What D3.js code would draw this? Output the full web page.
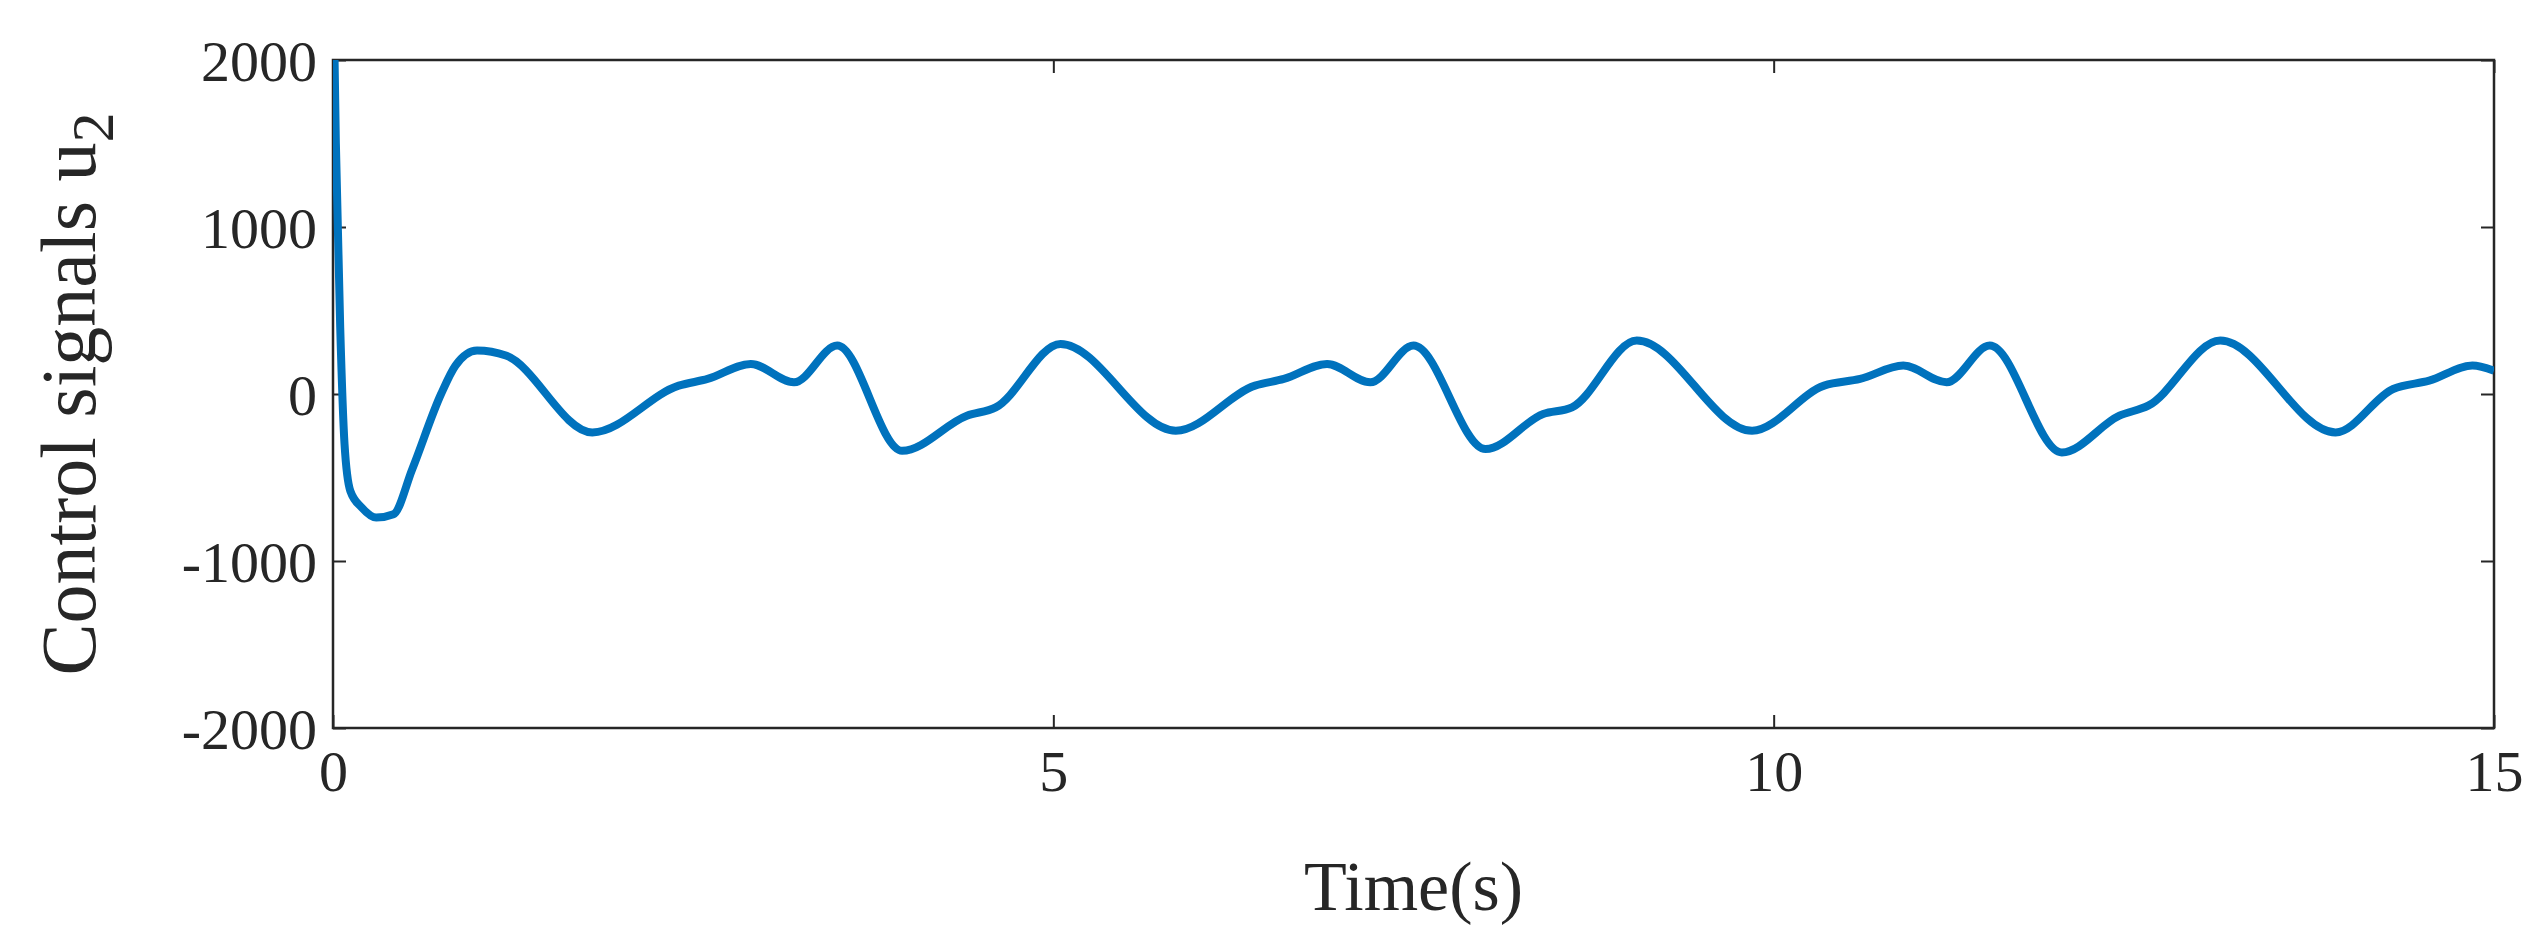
<!DOCTYPE html>
<html lang="en">
<head>
  <meta charset="UTF-8">
  <title>Control signals u2</title>
  <style>
    body { margin: 0; background: #fff; }
    text { font-family: "Liberation Serif", "DejaVu Serif", serif; fill: #262626; }
  </style>
</head>
<body>
  <script src="https://d3js.org/d3.v7.min.js"></script>
  <script>
    const times = [0, 0.02, 0.05, 0.08, 0.12, 0.2, 0.3, 0.42, 0.55, 0.75, 0.85, 1.0, 1.2, 1.8, 2.4, 2.6, 2.9, 3.2, 3.5, 3.95, 4.4, 4.6, 5.05, 5.85, 6.4, 6.6, 6.9, 7.2, 7.5, 8.0, 8.4, 8.6, 9.05, 9.85, 10.35, 10.6, 10.9, 11.2, 11.5, 12.0, 12.4, 12.6, 13.1, 13.9, 14.3, 14.55, 14.85, 15]
    const u2 = [2600, 1500, 400, -300, -580, -680, -740, -720, -450, 0, 170, 260, 230, -230, 50, 90, 180, 70, 290, -340, -130, -80, 300, -220, 50, 90, 180, 70, 290, -330, -120, -80, 320, -220, 50, 90, 170, 70, 290, -350, -130, -70, 320, -230, 30, 80, 170, 140]
    const xTicks = [0, 5, 10, 15]
    const yTicks = [-2000, -1000, 0, 1000, 2000]

    const W = 2548, H = 948
    const m = { left: 333, right: 54, top: 60, bottom: 220 }
    const iw = W - m.left - m.right, ih = H - m.top - m.bottom

    const x = d3.scaleLinear().domain([0, 15]).range([0, iw])
    const y = d3.scaleLinear().domain([-2000, 2000]).range([ih, 0])

    const svg = d3.select('body').append('svg').attr('width', W).attr('height', H)
    const g = svg.append('g').attr('transform', `translate(${m.left},${m.top})`)

    svg.append('defs').append('clipPath').attr('id', 'clip')
      .append('rect').attr('width', iw).attr('height', ih)

    const tick = 13
    const fmt = d => String(d)  // plain hyphen, no thousands comma
    const axStyle = sel => {
      sel.select('.domain').remove()
      sel.selectAll('line').attr('stroke', '#262626').attr('stroke-width', 2)
    }
    g.append('g').attr('transform', `translate(0,${ih})`)
      .call(d3.axisBottom(x).tickValues(xTicks).tickSize(-tick).tickPadding(14).tickFormat(fmt))
      .call(axStyle)
      .selectAll('text').attr('font-size', 58).attr('dy', '0.85em')
    g.append('g')
      .call(d3.axisTop(x).tickValues(xTicks).tickSize(-tick).tickFormat(''))
      .call(axStyle)
    g.append('g')
      .call(d3.axisLeft(y).tickValues(yTicks).tickSize(-tick).tickPadding(16).tickFormat(fmt))
      .call(axStyle)
      .selectAll('text').attr('font-size', 58).attr('dy', '0.35em')
    g.append('g').attr('transform', `translate(${iw},0)`)
      .call(d3.axisRight(y).tickValues(yTicks).tickSize(-tick).tickFormat(''))
      .call(axStyle)

    g.append('rect').attr('width', iw).attr('height', ih)
      .attr('fill', 'none').attr('stroke', '#262626').attr('stroke-width', 2.5)

    const line = d3.line()
      .x((d, i) => x(times[i]))
      .y(d => y(d))
      .curve(d3.curveMonotoneX)

    g.append('path')
      .datum(u2)
      .attr('clip-path', 'url(#clip)')
      .attr('d', line)
      .attr('fill', 'none')
      .attr('stroke', '#0072BD')
      .attr('stroke-width', 8)
      .attr('stroke-linejoin', 'round')

    svg.append('text')
      .attr('x', m.left + iw / 2).attr('y', 910)
      .attr('text-anchor', 'middle').attr('font-size', 70)
      .text('Time(s)')

    const yl = svg.append('text')
      .attr('transform', `translate(95,${m.top + ih / 2}) rotate(-90)`)
      .attr('text-anchor', 'middle').attr('font-size', 78)
    yl.append('tspan').text('Control signals u')
    yl.append('tspan').attr('font-size', 60).attr('dy', 18).text('2')
  </script>
</body>
</html>
